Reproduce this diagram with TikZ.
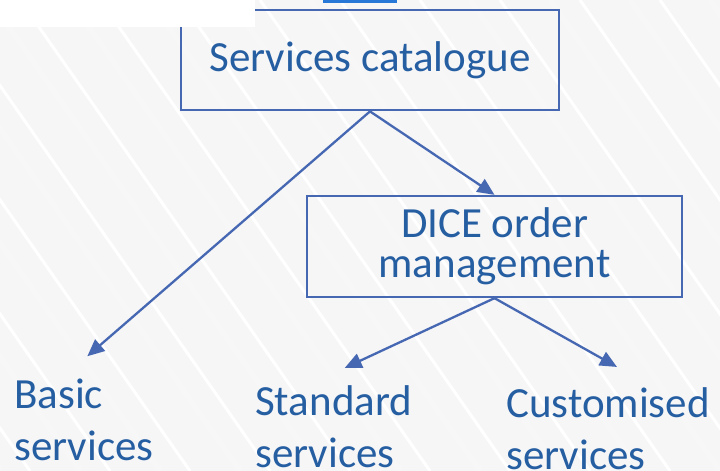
\documentclass[tikz,border=0pt]{standalone}
\usepackage{fontspec}
\setmainfont{Carlito}
\usetikzlibrary{arrows.meta}
\definecolor{linec}{RGB}{70,104,178}
\definecolor{textc}{RGB}{38,94,162}
\definecolor{bgc}{RGB}{246,246,247}
\definecolor{topblue}{RGB}{40,120,215}
\begin{document}
\begin{tikzpicture}[x=1pt,y=-1pt,
  box/.style={draw=linec, line width=2.3pt, text=textc, font=\fontsize{43}{40}\selectfont, inner sep=0pt, align=center},
  lbl/.style={text=textc, font=\fontsize{43}{52}\selectfont, inner sep=0pt, anchor=base west},
  arr/.style={draw=linec, line width=2.3pt, -{Triangle[length=17pt,width=15pt]}},
  streak/.style={line width=6pt, draw=gray!6},
  lightstreak/.style={line width=3pt, draw=white}]
\fill[bgc] (0,0) rectangle (720,471);
\useasboundingbox (0,0) rectangle (720,471);
\foreach \x in {-330,-250,...,720} {
  \draw[streak] (\x,0) -- (\x+330,471);
  \draw[lightstreak] (\x+30,0) -- (\x+360,471);
}
\node[box, minimum width=378pt, minimum height=100.5pt] (cat) at (370,60) {Services catalogue};
\fill[white] (0,0) rectangle (255,27);
\fill[topblue] (323,0) rectangle (397,2.5);
\node[box, minimum width=375pt, minimum height=101pt] (dice) at (494.5,246.5) {DICE order\\management};
\node[lbl] (basic) at (14,408) {\vtop{\hbox{Basic}\hbox{services}}};
\node[lbl] (standard) at (255,415) {\vtop{\hbox{Standard}\hbox{services}}};
\node[lbl] (custom) at (506,417) {\vtop{\hbox{Customised}\hbox{services}}};
\draw[arr] (cat.south) -- (dice.north);
\draw[arr] (cat.south) -- ([xshift=3.5pt,yshift=22pt]basic.north);
\draw[arr] (dice.south) -- ([xshift=11pt,yshift=17pt]standard.north);
\draw[arr] (dice.south) -- ([xshift=9pt,yshift=20pt]custom.north);
\end{tikzpicture}
\end{document}
